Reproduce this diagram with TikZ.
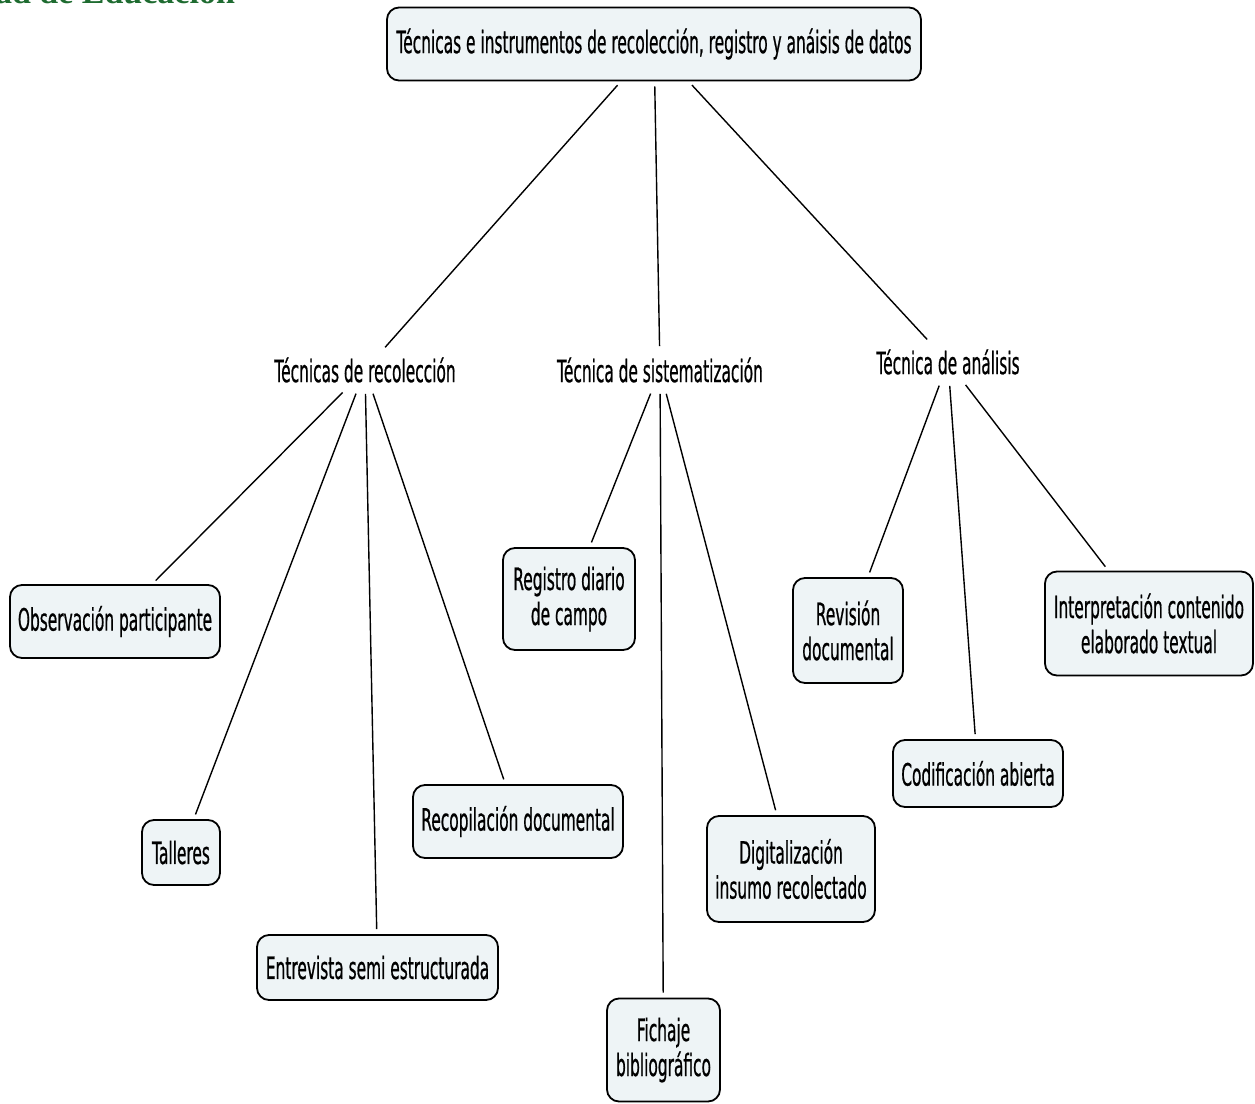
\documentclass[tikz,border=0pt]{standalone}
\usepackage{fontspec}
\setmainfont{DejaVu Sans}[FakeStretch=0.5, FakeBold=0.6]
\newfontfamily\hdrfont{Liberation Serif}
\definecolor{boxfill}{HTML}{EEF4F6}
\definecolor{hdrgreen}{HTML}{1E6B30}
\begin{document}
\begin{tikzpicture}[x=0.5pt,y=-0.5pt,
  every node/.style={font=\fontsize{15.4}{17.5}\selectfont},
  cbox/.style={draw=black, line width=0.9pt, fill=boxfill, rounded corners=6pt, align=center, inner sep=0pt},
  lbl/.style={inner sep=3pt},
  conn/.style={line width=0.7pt, shorten <=2.5pt, shorten >=2.5pt}]
\useasboundingbox (0,0) rectangle (1255,1104);

\node[anchor=base east, text=hdrgreen, font=\hdrfont\bfseries\fontsize{17}{19}\selectfont] (hdr) at (242,3) {Facultad de Educación};

\node[cbox, minimum width=267pt, minimum height=36.5pt] (top) at (654,44) {Técnicas e instrumentos de recolección, registro y anáisis de datos};

\node[lbl] (rec) at (365,370) {Técnicas de recolección};
\node[lbl] (sys) at (660,370) {Técnica de sistematización};
\node[lbl] (ana) at (948,362) {Técnica de análisis};

\node[cbox, minimum width=105pt, minimum height=36.5pt] (obs) at (115,621.5) {Observación participante};
\node[cbox, minimum width=39pt, minimum height=32.5pt] (tal) at (181,852.5) {Talleres};
\node[cbox, minimum width=120.5pt, minimum height=32.5pt] (ent) at (377.5,967.5) {Entrevista semi estructurada};
\node[cbox, minimum width=105pt, minimum height=36.5pt] (rcp) at (518,821.5) {Recopilación documental};

\node[cbox, minimum width=66pt, minimum height=51pt] (reg) at (569,599) {Registro diario\\de campo};
\node[cbox, minimum width=56.5pt, minimum height=51.5pt] (fic) at (663.5,1050) {Fichaje\\bibliográfico};
\node[cbox, minimum width=84pt, minimum height=53pt] (dig) at (791,869) {Digitalización\\insumo recolectado};

\node[cbox, minimum width=55pt, minimum height=52.5pt] (rev) at (848,630.5) {Revisión\\documental};
\node[cbox, minimum width=85pt, minimum height=33.5pt] (cod) at (978,773.5) {Codificación abierta};
\node[cbox, minimum width=104pt, minimum height=52pt] (int) at (1149,623.5) {Interpretación contenido\\elaborado textual};

\draw[conn] (top) -- (rec);
\draw[conn] (top) -- (sys);
\draw[conn] (top) -- (ana);

\draw[conn] (rec) -- (obs);
\draw[conn] (rec) -- (tal);
\draw[conn] (rec) -- (ent);
\draw[conn] (rec) -- (rcp);

\draw[conn] (sys) -- (reg);
\draw[conn] (sys) -- (fic);
\draw[conn] (sys) -- (dig);

\draw[conn] (ana) -- (rev);
\draw[conn] (ana) -- (cod);
\draw[conn] (ana) -- (int);
\end{tikzpicture}
\end{document}
